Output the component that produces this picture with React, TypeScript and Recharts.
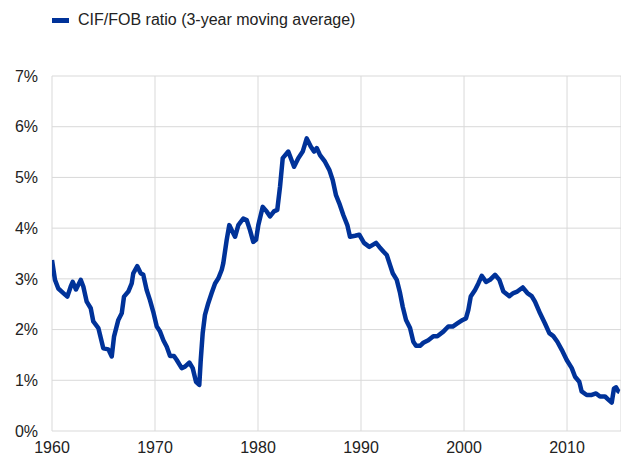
import { LineChart, Line, XAxis, YAxis, CartesianGrid } from "recharts"

const seriesName = "CIF/FOB ratio (3-year moving average)"

const years = [
  1960.0, 1960.29, 1960.61, 1961.1, 1961.49, 1961.82, 1962.01, 1962.33, 1962.79, 1963.04,
  1963.37, 1963.76, 1964.01, 1964.5, 1964.98, 1965.47, 1965.8, 1966.02, 1966.44, 1966.77,
  1966.99, 1967.41, 1967.74, 1967.89, 1968.28, 1968.61, 1968.86, 1969.19, 1969.51, 1969.83,
  1970.17, 1970.49, 1970.81, 1971.14, 1971.46, 1971.84, 1972.11, 1972.59, 1972.91, 1973.33,
  1973.66, 1973.98, 1974.3, 1974.44, 1974.63, 1974.85, 1975.17, 1975.5, 1975.83, 1976.15,
  1976.48, 1976.63, 1976.96, 1977.21, 1977.45, 1977.77, 1978.09, 1978.57, 1978.9, 1979.22,
  1979.54, 1979.81, 1980.03, 1980.46, 1980.84, 1981.17, 1981.55, 1981.87, 1982.14, 1982.4,
  1982.94, 1983.5, 1983.91, 1984.34, 1984.73, 1985.12, 1985.44, 1985.7, 1986.02, 1986.5,
  1986.92, 1987.25, 1987.57, 1987.89, 1988.28, 1988.67, 1988.93, 1989.42, 1989.83, 1990.29,
  1990.81, 1991.14, 1991.46, 1991.78, 1992.17, 1992.5, 1992.82, 1993.08, 1993.47, 1993.79,
  1994.05, 1994.37, 1994.76, 1995.08, 1995.34, 1995.73, 1996.05, 1996.53, 1997.02, 1997.41,
  1997.99, 1998.47, 1998.9, 1999.35, 1999.87, 2000.19, 2000.42, 2000.65, 2001.07, 2001.39,
  2001.72, 2002.14, 2002.52, 2003.01, 2003.43, 2003.82, 2004.4, 2004.79, 2005.17, 2005.7,
  2006.15, 2006.57, 2006.89, 2007.38, 2007.86, 2008.28, 2008.67, 2009.06, 2009.49, 2009.97,
  2010.46, 2010.78, 2011.19, 2011.42, 2011.91, 2012.4, 2012.82, 2013.2, 2013.69, 2014.01,
  2014.34, 2014.56, 2014.76, 2014.98, 2015.1,
]

const ratio = [
  3.37, 2.98, 2.81, 2.72, 2.65, 2.85, 2.94, 2.79, 2.98, 2.85,
  2.55, 2.42, 2.16, 2.03, 1.63, 1.61, 1.47, 1.86, 2.19, 2.32,
  2.65, 2.75, 2.91, 3.11, 3.25, 3.11, 3.08, 2.78, 2.58, 2.35,
  2.06, 1.96, 1.79, 1.66, 1.48, 1.48, 1.4, 1.24, 1.27, 1.35,
  1.24, 0.97, 0.91, 1.4, 1.93, 2.29, 2.52, 2.72, 2.91, 3.01,
  3.18, 3.31, 3.77, 4.06, 3.96, 3.83, 4.06, 4.19, 4.16, 3.96,
  3.73, 3.77, 4.06, 4.42, 4.33, 4.23, 4.33, 4.36, 4.82, 5.38,
  5.51, 5.21, 5.38, 5.51, 5.77, 5.61, 5.51, 5.58, 5.44, 5.31,
  5.15, 4.95, 4.65, 4.49, 4.26, 4.06, 3.83, 3.85, 3.87, 3.71,
  3.63, 3.67, 3.71, 3.63, 3.54, 3.47, 3.27, 3.11, 2.98, 2.72,
  2.45, 2.19, 2.03, 1.76, 1.68, 1.68, 1.74, 1.79, 1.87, 1.87,
  1.96, 2.06, 2.06, 2.12, 2.19, 2.22, 2.39, 2.65, 2.78, 2.91,
  3.06, 2.94, 2.98, 3.08, 2.98, 2.75, 2.66, 2.72, 2.75, 2.83,
  2.72, 2.66, 2.55, 2.32, 2.12, 1.93, 1.87, 1.76, 1.6, 1.4,
  1.24, 1.07, 0.97, 0.78, 0.71, 0.71, 0.74, 0.68, 0.68, 0.62,
  0.56, 0.84, 0.86, 0.78, 0.77,
]

const xTicks = [1960, 1970, 1980, 1990, 2000, 2010]
const yTicks = [0, 1, 2, 3, 4, 5, 6, 7]

const data = years.map((year, i) => ({ year, ratio: ratio[i] }))

const blue = "#003299"
const font = "'Liberation Sans', Arial, sans-serif"

export default function App() {
  return (
    <div style={{ position: "absolute", left: 0, top: 0, width: 621, height: 457, fontFamily: font }}>
      <div style={{ position: "absolute", left: 52, top: 11, display: "flex", alignItems: "center", fontSize: 16, color: "#222" }}>
        <span style={{ display: "inline-block", width: 17, height: 5, background: blue, marginRight: 9 }} />
        <span>{seriesName}</span>
      </div>
      <LineChart width={621} height={457} data={data} margin={{ top: 76, right: 0, left: 0, bottom: 0 }}>
        <CartesianGrid stroke="#d9d9d9" strokeWidth={1} />
        <XAxis
          dataKey="year"
          type="number"
          domain={[1960, 2015.24]}
          ticks={xTicks}
          axisLine={false}
          tickLine={false}
          tickMargin={5}
          height={26}
          tick={{ fontSize: 16, fill: "#222", fontFamily: font }}
          allowDataOverflow
        />
        <YAxis
          type="number"
          domain={[0, 7]}
          ticks={yTicks}
          axisLine={false}
          tickLine={false}
          tickMargin={8}
          width={52}
          tickFormatter={(v) => `${v}%`}
          tick={{ fontSize: 16, fill: "#222", fontFamily: font }}
        />
        <Line
          dataKey="ratio"
          name={seriesName}
          type="linear"
          stroke={blue}
          strokeWidth={4.5}
          strokeLinejoin="round"
          dot={false}
          isAnimationActive={false}
        />
      </LineChart>
    </div>
  )
}
